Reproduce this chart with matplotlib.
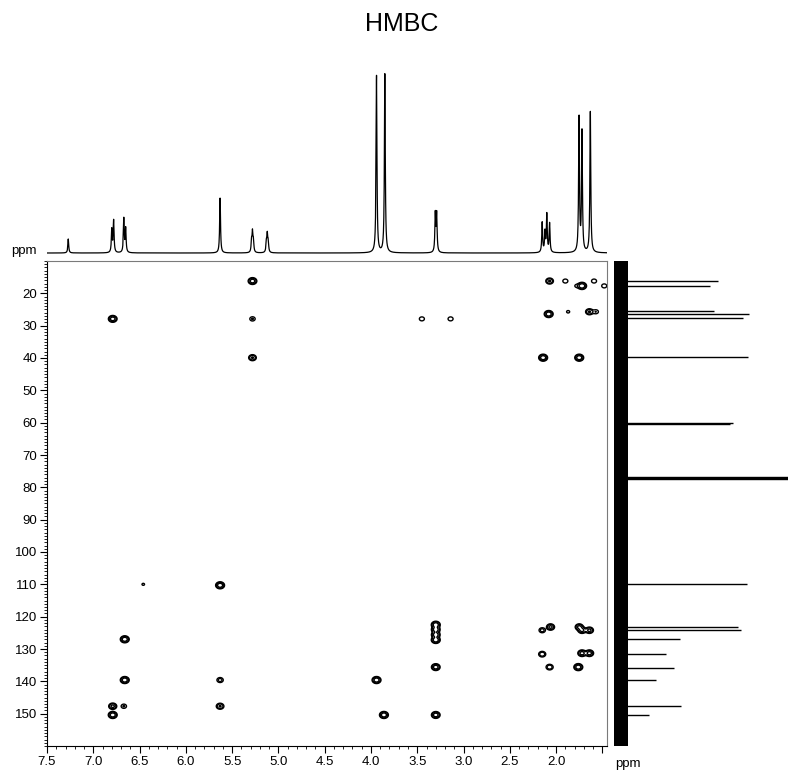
import numpy as np
import matplotlib
matplotlib.use("Agg")
import matplotlib.pyplot as plt
from matplotlib.ticker import MultipleLocator

plt.rcParams['font.family'] = ['Liberation Sans', 'DejaVu Sans']

# ---- 1H projection: peak positions (ppm) and intensities ----
h_shift = [7.27, 6.80, 6.78, 6.67, 6.65, 5.63, 5.29, 5.28, 5.27, 5.13, 5.12, 5.11,
           3.94, 3.85, 3.305, 3.29, 2.15, 2.12, 2.10, 2.07, 1.752, 1.72, 1.63]
h_int = [14, 23, 32, 34, 24, 55, 11, 19, 11, 10, 17, 10,
         177, 179, 38, 38, 30, 20, 38, 29, 135, 120, 142]

# ---- 13C projection: peak positions (ppm) and intensities ----
c_shift = [16.1, 17.6, 25.6, 26.5, 27.7, 39.7, 60.2, 60.4, 76.7, 77.0, 77.3,
           110.0, 123.2, 124.2, 126.9, 131.4, 135.8, 139.5, 147.6, 150.4]
c_int = [97, 89, 93, 128, 122, 127, 112, 109, 200, 200, 200,
         126, 117, 120, 59, 45, 53, 35, 60, 28]

# ---- HMBC correlations: 1H shift, 13C shift, relative strength ----
cross_h = [6.79, 5.28, 5.28, 5.28, 3.45, 3.14,
           2.07, 1.90, 1.78, 1.72, 1.59, 1.48,
           2.08, 1.87, 1.64, 1.57, 2.14, 1.75,
           6.46, 5.63, 6.66, 6.66, 5.63, 6.79, 6.67, 5.63, 6.79,
           3.94, 3.86, 3.30, 3.30, 3.30, 3.30, 3.30, 3.30,
           2.15, 2.06, 1.75, 1.72, 1.64, 2.15, 1.72, 1.64, 2.07, 1.76]
cross_c = [27.9, 16.2, 27.9, 39.9, 27.9, 27.9,
           16.2, 16.2, 17.7, 17.7, 16.2, 17.7,
           26.4, 25.7, 25.7, 25.7, 39.9, 39.9,
           110.0, 110.3, 127.0, 139.6, 139.6, 147.7, 147.7, 147.7, 150.4,
           139.6, 150.4, 122.5, 124.0, 125.6, 127.2, 135.6, 150.4,
           124.2, 123.2, 123.2, 124.2, 124.2, 131.6, 131.3, 131.3, 135.6, 135.6]
cross_amp = [8, 8, 2.2, 5, 2, 2,
             5, 2, 1.3, 10, 2, 2,
             9, 1.3, 5, 2, 9, 9,
             1.2, 9, 9, 9, 3, 6, 2.2, 5, 9,
             9, 9, 9, 8, 8, 9, 8, 8,
             3, 6, 6, 6, 6, 4, 7, 7, 4, 9]

x_lim = (7.5, 1.45)
y_lim = (160, 10)
x_major = [7.5, 7.0, 6.5, 6.0, 5.5, 5.0, 4.5, 4.0, 3.5, 3.0, 2.5, 2.0, 1.5]
x_labels = ['7.5', '7.0', '6.5', '6.0', '5.5', '5.0', '4.5', '4.0', '3.5', '3.0', '2.5', '2.0', '']
y_major = [20, 30, 40, 50, 60, 70, 80, 90, 100, 110, 120, 130, 140, 150]

fig = plt.figure(figsize=(7.88, 7.74), dpi=100)

W, H = 788.0, 774.0
main_box = [47 / W, 1 - 746 / H, 560 / W, 485 / H]
top_box = [47 / W, 1 - 258 / H, 560 / W, 198 / H]
side_box = [610 / W, 1 - 746 / H, 178 / W, 485 / H]

# ---- 2D contour map ----
ax = fig.add_axes(main_box)
xs = np.linspace(x_lim[1], x_lim[0], 1300)
ys = np.linspace(y_lim[1], y_lim[0], 1500)
sx = 0.023
sy = 0.52
ch = np.array(cross_h)[:, None]
cc = np.array(cross_c)[:, None]
amp = np.array(cross_amp)[:, None]
gx = amp * np.exp(-0.5 * ((xs[None, :] - ch) / sx) ** 2)
gy = np.exp(-0.5 * ((ys[None, :] - cc) / sy) ** 2)
Z = gy.T @ gx
ax.contour(xs, ys, Z, levels=[1.0, 2.0, 4.5], colors='black', linewidths=1.0)

ax.set_xlim(*x_lim)
ax.set_ylim(*y_lim)
ax.set_xticks(x_major)
ax.set_xticklabels(x_labels)
ax.set_yticks(y_major)
ax.xaxis.set_minor_locator(MultipleLocator(0.1))
ax.yaxis.set_minor_locator(MultipleLocator(1))
ax.tick_params(axis='both', which='major', direction='out', length=5, width=0.8,
               labelsize=9.5, pad=2)
ax.tick_params(axis='both', which='minor', direction='out', length=2.5, width=0.6)
for side in ('top', 'right'):
    ax.spines[side].set_color('#7a7a7a')
for side in ('left', 'bottom'):
    ax.spines[side].set_color('black')

# ---- 1H trace on top ----
axt = fig.add_axes(top_box)
xt = np.linspace(x_lim[1], x_lim[0], 6000)
hw = 0.0055
trace = np.zeros_like(xt)
for s, h in zip(h_shift, h_int):
    trace += h / (1 + ((xt - s) / hw) ** 2)
axt.plot(xt, trace, color='black', lw=0.9)
axt.set_xlim(*x_lim)
axt.set_ylim(-5, 193)
axt.axis('off')

# ---- 13C trace on the right ----
axs = fig.add_axes(side_box)
axs.fill_betweenx([10, 160], -7, 7, color='black', lw=0)
axs.hlines(c_shift, 0, c_int, color='black', lw=1.0)
axs.set_xlim(-11, 167)
axs.set_ylim(*y_lim)
axs.axis('off')

fig.text(402 / W, 1 - 24 / H, 'HMBC', ha='center', va='center', fontsize=18)
fig.text(24 / W, 1 - 251 / H, 'ppm', ha='center', va='center', fontsize=9.5)
fig.text(628 / W, 1 - 764 / H, 'ppm', ha='center', va='center', fontsize=9.5)

fig.savefig('out.png', dpi=100)
